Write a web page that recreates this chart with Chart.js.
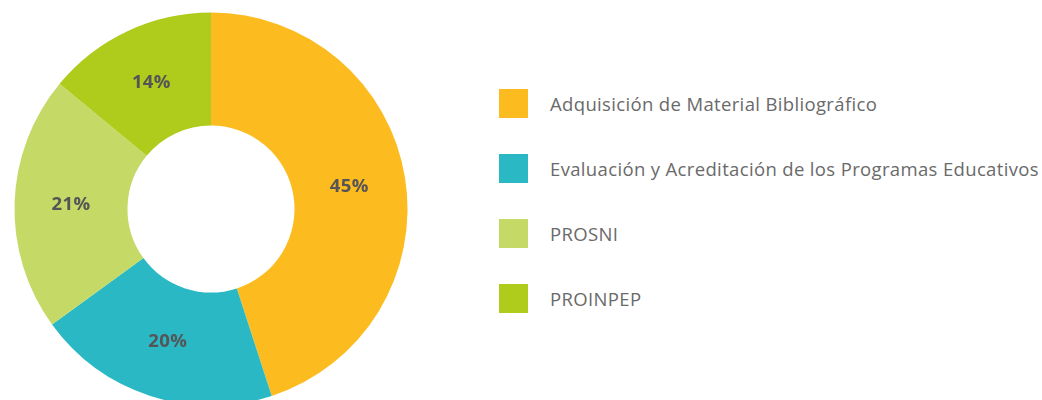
<!DOCTYPE html>
<html lang="es">
<head>
<meta charset="utf-8">
<title>Distribución de recursos</title>
<script src="https://cdn.jsdelivr.net/npm/chart.js@4/dist/chart.umd.min.js"></script>
<style>
  html, body { margin: 0; padding: 0; background: #fff; overflow: hidden; }
  body { width: 1042px; height: 400px; position: relative; }
  #wrap { position: absolute; left: 0; top: 0; width: 422px; height: 418px; }
  #legend { position: absolute; left: 499px; top: 89px; margin: 0; padding: 0; list-style: none;
            font-family: "Open Sans", sans-serif; font-size: 18.5px; letter-spacing: 0.35px; color: #6a6a6a; }
  #legend li { display: flex; align-items: center; height: 29px; margin-bottom: 36px; white-space: nowrap; }
  #legend .box { width: 29px; height: 29px; margin-right: 22px; flex: none; }
</style>
</head>
<body>
<div id="wrap"><canvas id="chart"></canvas></div>
<ul id="legend"></ul>
<script>
const categories = [
  "Adquisición de Material Bibliográfico",
  "Evaluación y Acreditación de los Programas Educativos",
  "PROSNI",
  "PROINPEP"
];
const shares = [45, 20, 21, 14];
const sliceColors = ["#FCBC1F", "#2BB8C5", "#C5D966", "#AFCB1B"];

// percentage text written in the middle of each ring segment
const sliceLabels = {
  id: "sliceLabels",
  afterDatasetsDraw(chart) {
    const { ctx } = chart;
    const meta = chart.getDatasetMeta(0);
    ctx.save();
    ctx.font = "bold 18.5px 'Open Sans', sans-serif";
    if ("letterSpacing" in ctx) ctx.letterSpacing = "0.4px";
    ctx.fillStyle = "#555557";
    ctx.textAlign = "center";
    ctx.textBaseline = "middle";
    meta.data.forEach((arc, i) => {
      const p = arc.tooltipPosition();
      ctx.fillText(chart.data.datasets[0].data[i] + "%", p.x, p.y);
    });
    ctx.restore();
  }
};

new Chart(document.getElementById("chart"), {
  type: "doughnut",
  data: {
    labels: categories,
    datasets: [{
      data: shares,
      backgroundColor: sliceColors,
      borderWidth: 0,
      hoverOffset: 0
    }]
  },
  options: {
    responsive: true,
    maintainAspectRatio: false,
    animation: false,
    radius: 196.5,
    cutout: "42.5%",
    layout: { padding: 0 },
    plugins: {
      legend: { display: false },
      tooltip: { enabled: false }
    }
  },
  plugins: [sliceLabels]
});

// legend list beside the ring
const legend = document.getElementById("legend");
categories.forEach((name, i) => {
  const li = document.createElement("li");
  const box = document.createElement("span");
  box.className = "box";
  box.style.background = sliceColors[i];
  li.appendChild(box);
  li.appendChild(document.createTextNode(name));
  legend.appendChild(li);
});
</script>
</body>
</html>
